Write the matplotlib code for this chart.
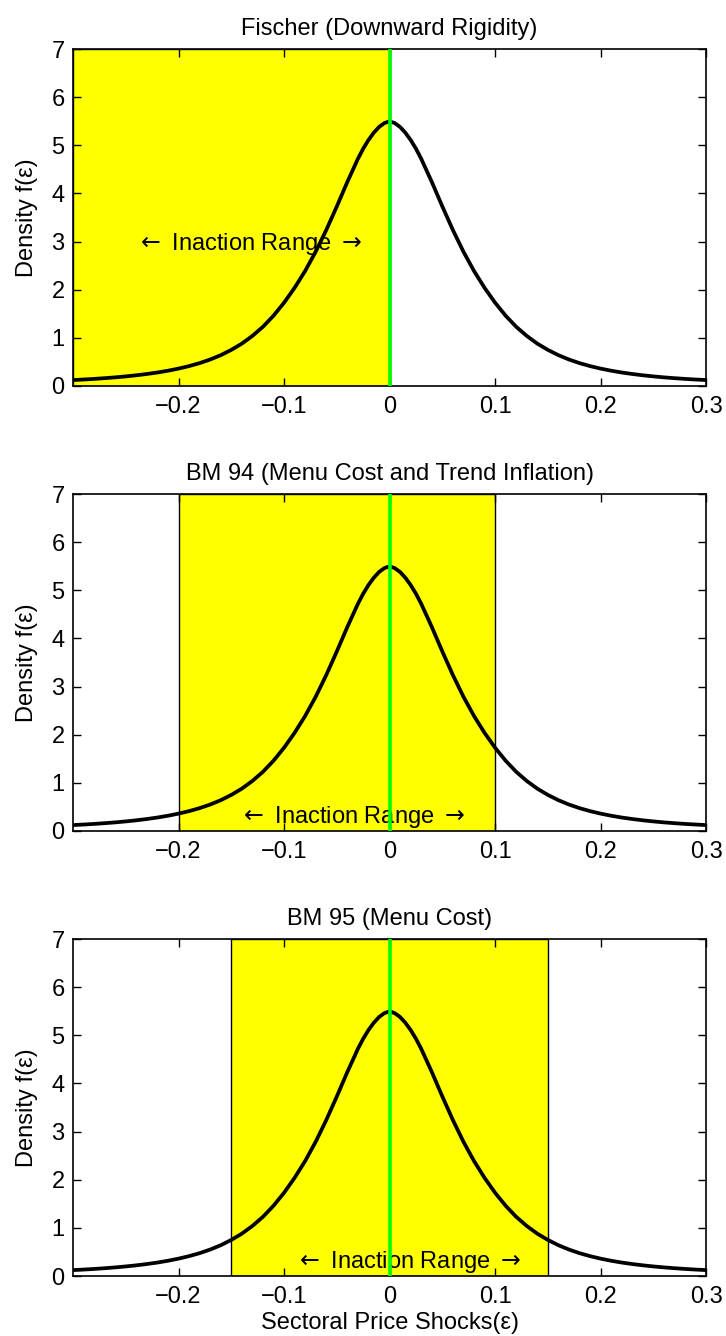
import matplotlib
matplotlib.use("Agg")
import matplotlib.pyplot as plt

plt.rcParams["font.family"] = ["Liberation Sans", "DejaVu Sans"]
plt.rcParams["mathtext.fontset"] = "dejavusans"

# density curve (same curve in all three panels)
shock = [-0.30, -0.29, -0.28, -0.27, -0.26, -0.25, -0.24, -0.23, -0.22, -0.21,
         -0.20, -0.19, -0.18, -0.17, -0.16, -0.15, -0.14, -0.13, -0.12, -0.11,
         -0.10, -0.09, -0.08, -0.07, -0.06, -0.05, -0.04, -0.03, -0.025, -0.02,
         -0.015, -0.01, -0.005, 0.00, 0.005, 0.01, 0.015, 0.02, 0.025, 0.03,
         0.04, 0.05, 0.06, 0.07, 0.08, 0.09, 0.10, 0.11, 0.12, 0.13,
         0.14, 0.15, 0.16, 0.17, 0.18, 0.19, 0.20, 0.21, 0.22, 0.23,
         0.24, 0.25, 0.26, 0.27, 0.28, 0.29, 0.30]
density = [0.123, 0.134, 0.147, 0.162, 0.179, 0.199, 0.222, 0.249, 0.28, 0.317,
           0.361, 0.413, 0.475, 0.55, 0.64, 0.75, 0.88, 1.04, 1.23, 1.46,
           1.73, 2.04, 2.39, 2.79, 3.24, 3.73, 4.24, 4.72, 4.93, 5.11,
           5.26, 5.38, 5.46, 5.50, 5.46, 5.38, 5.26, 5.11, 4.93, 4.72,
           4.24, 3.73, 3.24, 2.79, 2.39, 2.04, 1.73, 1.46, 1.23, 1.04,
           0.88, 0.75, 0.64, 0.55, 0.475, 0.413, 0.361, 0.317, 0.28, 0.249,
           0.222, 0.199, 0.179, 0.162, 0.147, 0.134, 0.123]

titles = ["Fischer (Downward Rigidity)",
          "BM 94 (Menu Cost and Trend Inflation)",
          "BM 95 (Menu Cost)"]
band_lo = [-0.30, -0.20, -0.15]
band_hi = [0.00, 0.10, 0.15]
label_x = [-0.133, -0.035, 0.018]
label_y = [2.95, 0.30, 0.30]

xticks = [-0.2, -0.1, 0, 0.1, 0.2, 0.3]
xticklabels = ["\u22120.2", "\u22120.1", "0", "0.1", "0.2", "0.3"]
yticks = [0, 1, 2, 3, 4, 5, 6, 7]

fig = plt.figure(figsize=(7.26, 13.36), dpi=100)
bottoms = [0.7111, 0.378, 0.0449]
fs = 17

for i in range(3):
    ax = fig.add_axes([0.1006, bottoms[i], 0.872, 0.2522])
    ax.axvspan(band_lo[i], band_hi[i], facecolor="#ffff00", edgecolor="black",
               linewidth=1.0, zorder=1)
    ax.plot(shock, density, color="black", linewidth=2.7, zorder=3,
            solid_joinstyle="round")
    ax.axvline(0, color="#00ff00", linewidth=2.6, zorder=4)
    ax.text(label_x[i], label_y[i], r"$\leftarrow$ Inaction Range $\rightarrow$",
            ha="center", va="center", fontsize=fs, zorder=3)
    ax.set_xlim(-0.3, 0.3)
    ax.set_ylim(0, 7)
    ax.set_xticks(xticks)
    ax.set_xticklabels(xticklabels)
    ax.set_yticks(yticks)
    ax.tick_params(direction="in", top=True, right=True, length=6,
                   width=1, labelsize=fs)
    ax.tick_params(axis="x", pad=7)
    ax.tick_params(axis="y", pad=6)
    for s in ax.spines.values():
        s.set_linewidth(1.2)
    ax.set_title(titles[i], fontsize=fs, pad=10)
    ax.set_ylabel("Density f(\u03b5)", fontsize=fs, labelpad=10)
    if i == 2:
        ax.set_xlabel("Sectoral Price Shocks(\u03b5)", fontsize=fs, labelpad=3)

fig.savefig("out.png", dpi=100)
